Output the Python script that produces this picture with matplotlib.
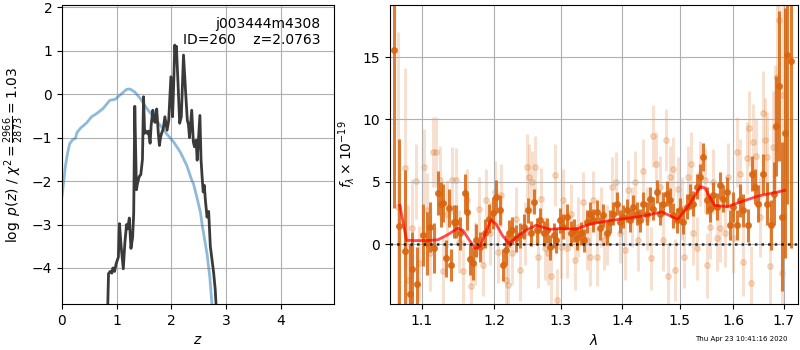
import matplotlib
matplotlib.use("Agg")
import matplotlib.pyplot as plt
from matplotlib.ticker import FixedLocator, FixedFormatter, NullLocator

# ---------------- left panel: p(z) ----------------
z_prior = [0.0, 0.03, 0.06, 0.10, 0.14, 0.20, 0.245, 0.275, 0.34, 0.45, 0.54, 0.63,
           0.75, 0.875, 0.97, 1.06, 1.18, 1.24, 1.33, 1.43, 1.55, 1.67, 1.79, 1.91,
           2.04, 2.16, 2.28, 2.37, 2.40, 2.46, 2.53, 2.56, 2.65, 2.70, 2.74, 2.76]
logp_prior = [-2.35, -2.02, -1.67, -1.37, -1.14, -1.04, -1.02, -0.88, -0.78, -0.66, -0.52, -0.45,
              -0.33, -0.14, -0.12, -0.02, 0.11, 0.12, 0.05, -0.10, -0.33, -0.52, -0.71, -0.91,
              -1.10, -1.33, -1.64, -1.98, -2.05, -2.35, -2.72, -3.00, -3.68, -4.20, -4.85, -5.20]

z_pz = [0.83, 0.85, 0.88, 0.91, 0.93, 0.96, 0.99, 1.03, 1.05, 1.08, 1.12, 1.15, 1.18, 1.20,
        1.23, 1.26, 1.29, 1.31, 1.33, 1.36, 1.38, 1.41, 1.44, 1.47, 1.49, 1.51, 1.53, 1.56,
        1.58, 1.61, 1.63, 1.66, 1.68, 1.70, 1.73, 1.76, 1.78, 1.80, 1.82, 1.85, 1.88, 1.92,
        1.95, 1.99, 2.02, 2.04, 2.06, 2.08, 2.09, 2.12, 2.15, 2.18, 2.22, 2.26, 2.29, 2.31,
        2.33, 2.37, 2.40, 2.42, 2.45, 2.47, 2.52, 2.54, 2.56, 2.58, 2.60, 2.62, 2.65, 2.68,
        2.71, 2.74, 2.77, 2.80, 2.83]
logp_pz = [-5.2, -4.13, -4.08, -4.12, -4.0, -4.08, -3.9, -3.75, -2.98, -3.5, -4.02, -3.4, -3.0, -3.1,
           -2.85, -3.55, -3.3, -2.75, -0.28, -2.2, -2.05, -1.9, -1.85, -1.5, -0.06, -0.9, -0.85, -0.9,
           -0.85, -1.13, -0.7, -0.37, -0.6, -0.65, -0.34, -0.9, -1.18, -1.0, -0.9, -0.8, -0.52, -0.83,
           -0.6, 0.4, -0.52, 0.2, 1.13, 0.9, 1.1, 0.25, -0.67, -0.52, 0.9, 0.02, -0.6, -0.7,
           -1.0, -0.37, -1.1, -1.21, -1.06, -1.52, -0.49, -1.5, -1.9, -2.25, -2.1, -2.44, -2.83, -2.7,
           -3.5, -3.8, -4.1, -4.5, -5.2]

z_ticks = [0, 1, 2, 3, 4]
logp_ticks = [-4, -3, -2, -1, 0, 1, 2]

# ---------------- right panel: spectrum ----------------
wave_a = [1.0641, 1.0705, 1.0782, 1.0846, 1.0880, 1.0942, 1.1022, 1.1066, 1.1110, 1.1163,
          1.1221, 1.1253, 1.1289, 1.1325, 1.1370, 1.1402, 1.1433, 1.1470, 1.1525, 1.1585,
          1.1618, 1.1655, 1.1701, 1.1748, 1.1805, 1.1866, 1.1928, 1.1986, 1.2034, 1.2083,
          1.2132, 1.2171, 1.2220, 1.2268, 1.2328, 1.2387, 1.2437, 1.2502, 1.2552, 1.2593,
          1.2638, 1.2689, 1.2739, 1.2790, 1.2842, 1.2894, 1.2935, 1.2988, 1.3040, 1.3103,
          1.3156, 1.3209, 1.3261, 1.3315, 1.3368, 1.3411, 1.3465, 1.3519, 1.3573, 1.3628,
          1.3683, 1.3738, 1.3793, 1.3848, 1.3904, 1.3959, 1.4015, 1.4071, 1.4128, 1.4185,
          1.4241, 1.4299, 1.4356, 1.4414, 1.4472, 1.4530, 1.4588, 1.4647, 1.4705, 1.4764,
          1.4823, 1.4883, 1.4943, 1.5003, 1.5063, 1.5124, 1.5184, 1.5245, 1.5306, 1.5368,
          1.5429, 1.5491, 1.5554, 1.5616, 1.5679, 1.5742, 1.5805, 1.5868, 1.5932, 1.5996,
          1.6059, 1.6123, 1.6188, 1.6286, 1.6351, 1.6417, 1.6483, 1.6582, 1.6662, 1.6729,
          1.6796, 1.6849, 1.6903, 1.6951, 1.7019, 1.7068, 1.7136]
flux_a = [15.6, 1.44, -0.53, -4.0, -2.0, -3.2, 0.72, 0.05, 1.4, -0.35,
          4.1, 3.2, 3.3, -1.15, 2.9, -1.7, 1.8, 1.8, 0.85, 4.1,
          2.6, -1.2, -1.55, 0.3, -0.2, 0.85, 2.05, 2.5, 3.8, 2.7,
          -1.7, -0.5, 0.85, 1.1, 0.45, 0.7, 1.4, 2.7, 0.85, 3.4,
          1.1, 1.9, 0.85, 1.1, -0.25, 0.7, 0.3, 1.9, 1.4, 2.2,
          0.85, 1.1, 0.45, 0.85, 0.3, 1.8, 2.45, 1.9, 2.6, 1.25,
          2.3, 0.85, 1.8, 2.45, 3.25, 1.8, 2.2, 2.7, 1.9, 3.0,
          2.45, 1.9, 3.25, 2.45, 3.65, 2.85, 4.2, 2.45, 3.25, 4.05,
          3.5, 2.3, 1.9, 2.7, 1.8, 3.0, 3.8, 3.25, 4.6, 5.4,
          7.0, 3.5, 2.85, 3.9, 3.0, 4.7, 3.65, 4.2, 1.5, 3.0,
          1.5, 3.5, 2.7, 1.5, 5.65, 4.6, 3.25, 5.65, 3.25, 1.5,
          4.05, 9.5, 12.7, 2.2, 8.9, 15.2, 14.7]
err_a = [12.7, 7.0, 6.5, 4.0, 3.0, 3.0, 2.5, 2.5, 2.0, 2.0,
         1.8, 1.8, 1.5, 1.5, 1.5, 1.3, 1.3, 1.3, 1.3, 1.5,
         1.5, 1.3, 1.3, 1.3, 1.2, 1.2, 1.2, 1.3, 1.3, 1.2,
         1.3, 1.2, 1.1, 1.1, 1.1, 1.0, 1.0, 1.0, 1.0, 1.0,
         1.0, 1.0, 1.0, 1.0, 1.0, 1.0, 1.0, 1.0, 1.0, 1.0,
         1.0, 0.9, 0.9, 0.9, 0.9, 0.9, 0.9, 0.9, 0.9, 0.9,
         0.9, 0.9, 0.9, 0.9, 0.9, 0.9, 0.9, 0.9, 0.9, 0.9,
         0.9, 0.9, 0.9, 0.9, 0.9, 0.9, 0.9, 0.9, 0.9, 1.0,
         1.0, 1.0, 1.0, 1.0, 1.0, 1.0, 1.0, 1.0, 1.0, 1.0,
         1.1, 1.1, 1.1, 1.1, 1.1, 1.1, 1.1, 1.2, 1.2, 1.2,
         1.2, 1.3, 1.3, 1.3, 1.4, 1.4, 1.5, 1.6, 1.7, 2.0,
         2.5, 4.0, 6.0, 6.0, 10.0, 12.0, 15.0]

wave_b = [1.0696, 1.0782, 1.0825, 1.0868, 1.0925, 1.0969, 1.1031, 1.1075, 1.1110, 1.1155,
          1.1190, 1.1244, 1.1289, 1.1334, 1.1415, 1.1461, 1.1506, 1.1562, 1.1618, 1.1678,
          1.1725, 1.1786, 1.1842, 1.1890, 1.1947, 1.2010, 1.2058, 1.2107, 1.2171, 1.2205,
          1.2268, 1.2328, 1.2387, 1.2452, 1.2487, 1.2517, 1.2567, 1.2603, 1.2653, 1.2704,
          1.2754, 1.2806, 1.2857, 1.2909, 1.2946, 1.2998, 1.3040, 1.3103, 1.3156, 1.3225,
          1.3278, 1.3347, 1.3411, 1.3465, 1.3519, 1.3584, 1.3639, 1.3694, 1.3749, 1.3820,
          1.3887, 1.3959, 1.4043, 1.4100, 1.4156, 1.4213, 1.4270, 1.4356, 1.4414, 1.4484,
          1.4530, 1.4576, 1.4647, 1.4705, 1.4752, 1.4788, 1.4823, 1.4883, 1.4919, 1.4973,
          1.5033, 1.5075, 1.5154, 1.5196, 1.5245, 1.5306, 1.5368, 1.5460, 1.5497, 1.5554,
          1.5616, 1.5679, 1.5742, 1.5837, 1.5900, 1.5996, 1.6059, 1.6123, 1.6188, 1.6253,
          1.6305, 1.6332, 1.6371, 1.6437, 1.6516, 1.6582, 1.6615, 1.6662, 1.6716, 1.6769,
          1.6816, 1.6863, 1.6903, 1.6951, 1.6985]
flux_b = [3.0, 6.1, -2.9, 1.25, 5.05, -1.55, 6.2, 2.7, -0.75, 7.4,
          7.4, 5.1, -2.2, 2.45, 5.1, 5.1, 0.2, -2.2, 3.5, -3.4,
          -0.75, 2.85, -1.7, 3.5, 0.85, 4.2, -0.6, 3.9, -2.9, -3.3,
          -0.75, 2.05, -2.1, 0.85, 6.2, 5.4, 5.0, 6.2, -1.0, 3.6,
          -0.35, -0.75, -2.6, 5.55, -4.5, -0.2, 3.5, -0.35, 2.45, -1.3,
          1.4, 3.4, 0.3, -1.0, 3.5, -1.0, 2.2, 0.3, 0.7, 4.6,
          5.0, 0.85, -0.5, 4.35, 2.2, 5.0, 0.3, 5.9, 2.05, -1.15,
          8.65, 6.45, 4.6, 0.3, 8.35, -2.6, 5.4, 6.05, -2.1, 4.45,
          2.85, -1.0, 5.4, 6.45, 0.85, -0.35, 5.65, 5.1, -1.7, 1.4,
          5.0, 0.45, 1.25, 0.85, 5.4, 0.45, 7.4, 5.65, -1.4, 6.9,
          9.3, -3.15, 8.2, 7.1, 2.2, 10.5, 8.35, 7.0, -1.8, 7.8,
          9.4, 13.4, 18.0, -2.35, 11.95]
err_b = [14.0, 8.0, 6.0, 4.0, 3.0, 3.0, 3.0, 3.0, 3.0, 2.8,
         2.8, 2.8, 2.8, 2.7, 2.7, 2.6, 2.5, 2.5, 2.5, 2.5,
         2.5, 2.5, 2.5, 2.5, 2.5, 2.5, 2.5, 2.5, 2.5, 2.5,
         2.5, 2.5, 2.5, 2.5, 2.6, 2.6, 2.5, 2.5, 2.5, 2.5,
         2.5, 2.5, 2.5, 2.5, 2.5, 2.5, 2.5, 2.4, 2.4, 2.4,
         2.4, 2.4, 2.4, 2.4, 2.4, 2.4, 2.4, 2.4, 2.4, 2.4,
         2.4, 2.4, 2.4, 2.4, 2.4, 2.5, 2.5, 2.5, 2.5, 2.5,
         2.5, 2.5, 2.5, 2.5, 2.5, 2.5, 2.5, 2.5, 2.5, 2.5,
         2.5, 2.5, 2.5, 2.5, 2.5, 2.5, 2.6, 2.6, 2.6, 2.6,
         2.6, 2.6, 2.7, 2.7, 2.7, 2.8, 2.8, 2.8, 2.8, 2.9,
         3.0, 3.0, 3.0, 3.0, 3.2, 3.4, 3.4, 3.6, 4.0, 4.5,
         5.0, 6.0, 8.0, 6.0, 9.0]

wave_model = [1.0716, 1.0803, 1.0900, 1.1000, 1.1120, 1.1220, 1.1350, 1.1488, 1.1560, 1.1650,
              1.1734, 1.1800, 1.1870, 1.1955, 1.2030, 1.2120, 1.2216, 1.2320, 1.2450, 1.2626,
              1.2829, 1.3000, 1.3241, 1.3463, 1.3842, 1.4349, 1.4683, 1.4960, 1.5150, 1.5377,
              1.5460, 1.5638, 1.5886, 1.6152, 1.6479, 1.7015]
flux_model = [3.1, 0.3, 0.28, 0.28, 0.3, 0.35, 0.75, 1.26, 1.1, 0.3,
              -0.35, -0.2, 0.8, 1.92, 1.6, 0.7, 0.04, 0.5, 1.05, 1.52,
              1.18, 1.25, 1.2, 1.6, 1.92, 2.24, 2.58, 1.98, 3.0, 4.6,
              4.5, 3.1, 3.0, 3.4, 3.85, 4.3]

wave_ticks = [1.1, 1.2, 1.3, 1.4, 1.5, 1.6, 1.7]
wave_ticklabels = ['1.1', '1.2', '1.3', '1.4', '1.5', '1.6', '1.7']
flux_ticks = [0, 5, 10, 15]

orange = '#d9650f'

fig = plt.figure(figsize=(8, 3.5), dpi=100)

ax1 = fig.add_axes([0.0775, 0.1314, 0.34, 0.854])
ax1.plot(z_prior, logp_prior, color='tab:blue', alpha=0.5, lw=2)
ax1.plot(z_pz, logp_pz, color='#3a3a3a', lw=2)
ax1.set_xlim(0, 4.97)
ax1.set_ylim(-4.83, 2.05)
ax1.set_xticks(z_ticks)
ax1.set_yticks(logp_ticks)
ax1.grid(True)
ax1.set_xlabel(r'$z$')
ax1.set_ylabel(r'$\log\ p(z)$' + ' / ' + r'$\chi^2=\frac{2966}{2873}=1.03$')
ax1.text(0.95, 0.96, 'j003444m4308\nID=260    z=2.0763', transform=ax1.transAxes,
         ha='right', va='top', fontsize=10)

ax2 = fig.add_axes([0.4875, 0.1314, 0.51, 0.854])
ax2.errorbar(wave_b, flux_b, yerr=err_b, marker='o', ms=4, linestyle='none',
             color=orange, alpha=0.2, elinewidth=2.2, zorder=1)
ax2.errorbar(wave_a, flux_a, yerr=err_a, marker='o', ms=4, linestyle='none',
             color=orange, alpha=0.85, elinewidth=2.2, zorder=2)
ax2.plot(wave_model, flux_model, color='red', alpha=0.7, lw=2, zorder=3)
ax2.axhline(0, color='k', linestyle=':', lw=1.8, alpha=0.8, zorder=4)
ax2.set_xscale('log')
ax2.xaxis.set_major_locator(FixedLocator(wave_ticks))
ax2.xaxis.set_major_formatter(FixedFormatter(wave_ticklabels))
ax2.xaxis.set_minor_locator(NullLocator())
ax2.set_xlim(1.059, 1.729)
ax2.set_ylim(-4.81, 19.17)
ax2.set_yticks(flux_ticks)
ax2.grid(True)
ax2.set_xlabel(r'$\lambda$')
ax2.set_ylabel(r'$f_\lambda\times10^{-19}$')

fig.text(0.984, 0.031, 'Thu Apr 23 10:41:16 2020', ha='right', va='center', fontsize=5)

fig.savefig('out.png', dpi=100)
